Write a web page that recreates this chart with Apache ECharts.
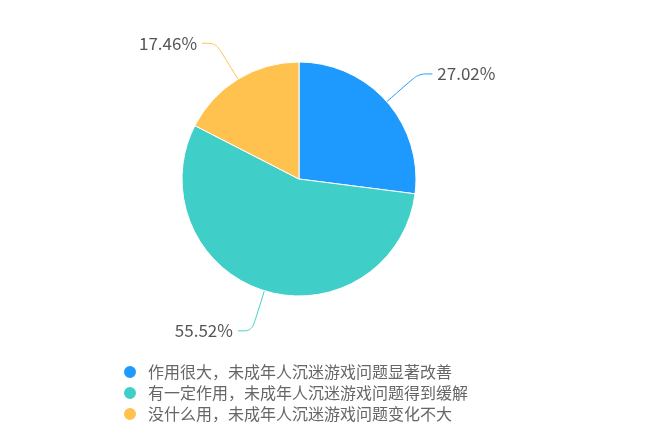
<!DOCTYPE html>
<html><head><meta charset="utf-8">
<script src="https://cdn.jsdelivr.net/npm/echarts@6/dist/echarts.min.js"></script>
<style>html,body{margin:0;padding:0;background:#fff}#c{width:660px;height:438px}</style>
</head><body><div id="c"></div>
<script>
const categories = ['作用很大，未成年人沉迷游戏问题显著改善','有一定作用，未成年人沉迷游戏问题得到缓解','没什么用，未成年人沉迷游戏问题变化不大'];
const values = [27.02, 55.52, 17.46];
const colors = ['#1E9AFE', '#40CFC8', '#FFC24E'];
const chart = echarts.init(document.getElementById('c'));
chart.setOption({
  color: colors,
  textStyle: { fontFamily: '"Noto Sans CJK SC", "Noto Sans", sans-serif' },
  legend: {
    orient: 'vertical', left: 117, top: 359, icon: 'circle',
    itemWidth: 26, itemHeight: 14, itemGap: 5,
    textStyle: { fontSize: 16, color: '#666' },
    data: categories
  },
  series: [{
    type: 'pie', center: [299, 179], radius: 117, startAngle: 90,
    itemStyle: { borderColor: '#fff', borderWidth: 1 },
    label: { formatter: p => p.value.toFixed(2) + '%', fontSize: 17, color: '#555' },
    labelLine: { length: 42, length2: 14, smooth: true, lineStyle: { width: 1 } },
    data: categories.map((n, i) => ({ name: n, value: values[i] }))
  }]
});
</script></body></html>
